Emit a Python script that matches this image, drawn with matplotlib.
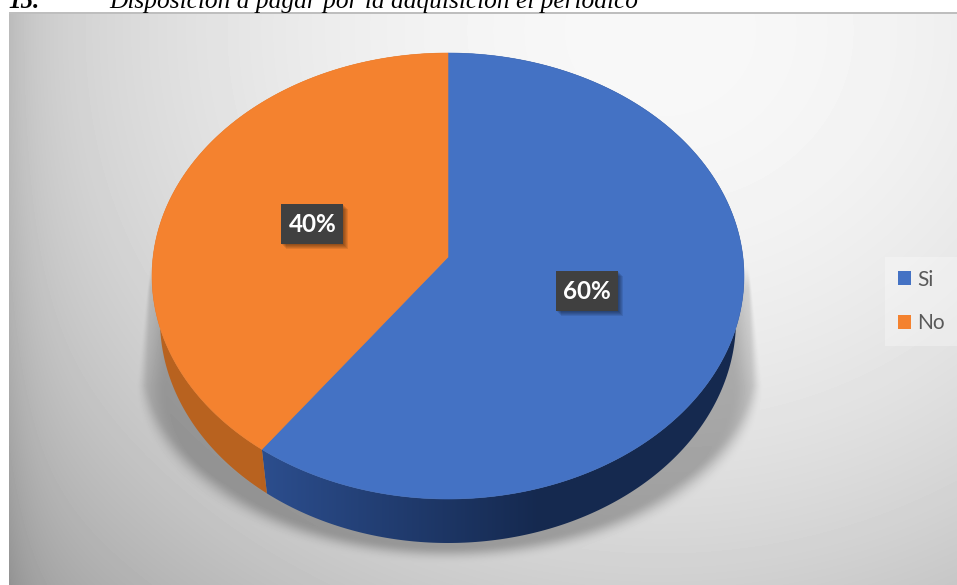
import numpy as np
import matplotlib
matplotlib.use('Agg')
import matplotlib.pyplot as plt
from matplotlib.patches import Polygon, Rectangle, Patch

labels = ['Si', 'No']
values = [60, 40]
colors = ['#4472C4', '#F4822F']
title_num = '15.'
title = 'Disposición a pagar por la adquisición el periódico'

W, H = 957, 585
CX, CY, RX, RY = 448, 276, 296, 223       # top face of the pie, in pixels
SX, SY = 288, 320                         # bottom rim (narrower, perspective)
A = 0.085                                 # moves the apex up from ellipse centre


def warp(theta, r=1.0, rx=RX, cy=CY):
    # unit circle -> tilted ellipse, keeps the rim on the ellipse
    t = np.radians(theta)
    x, y = r * np.cos(t), r * np.sin(t)
    d = 1 + A * y
    return CX + rx * x * np.sqrt(1 - A ** 2) / d, cy - RY * (y + A) / d


def smooth(a):
    a = np.clip(a, 0, 1)
    return a * a * (3 - 2 * a)


fig = plt.figure(figsize=(W / 100, H / 100), dpi=100)
ax = fig.add_axes([0, 0, 1, 1])

# background panel + shadow under the pie
yy, xx = np.mgrid[0:H, 0:W]
d2 = ((xx - 660) / 700.0) ** 2 + ((yy - 30) / 630.0) ** 2
bg = 248 - 52 * d2 - 16 * np.exp(-(xx - 9) / 25.0)

halfw = np.where(yy < 385, 301 + 13 * (yy - 273) / 112.0, 314.0)
ry = np.where(yy < 385, 1e9, 180.0)
r = np.hypot((xx - 449) / halfw, (yy - 385) / ry)
soft = 0.012 + 0.03 * np.clip((yy - 280) / 105.0, 0, 1) + 0.07 * np.clip((yy - 385) / 100.0, 0, 1)
sh = smooth((1 - r) / soft) * (0.45 + 0.55 * smooth((1 - r) / 0.1))
sh = sh * smooth((yy - 262) / 30.0)
bg = bg * (1 - 0.27 * sh)

bg[:14, :] = 190
bg[:12, :] = 255
bg[:, :9] = 255
ax.imshow(bg, cmap='gray', vmin=0, vmax=255, extent=(0, W, H, 0), zorder=0, interpolation='bilinear')

# the slices come from pie(), then get redrawn tilted
wedges, _ = ax.pie(values, colors=colors, startangle=90, counterclock=False)
side_cols = [('#2C4E8E', '#15294F'), ('#B8621F', '#A9581B')]

for w, col, sc in zip(wedges, colors, side_cols):
    th = np.linspace(w.theta1, w.theta2, 300)
    w.remove()

    # side wall with a left to right gradient
    tx, ty = warp(th)
    bx, by = warp(th, rx=SX, cy=SY)
    wall = Polygon(np.r_[np.c_[tx, ty], np.c_[bx, by][::-1]], closed=True, fc='none', ec='none', transform=ax.transData)
    ax.add_patch(wall)
    c0, c1 = matplotlib.colors.to_rgb(sc[0]), matplotlib.colors.to_rgb(sc[1])
    f = np.clip((np.arange(W) - 260) / 280.0, 0, 1)[None, :, None]
    grad = np.array(c0)[None, None, :] * (1 - f) + np.array(c1)[None, None, :] * f
    im = ax.imshow(grad, extent=(0, W, H, 0), aspect='auto', zorder=1)
    im.set_clip_path(wall)

    # top face
    ax0, ay0 = warp(np.array([0.0]), r=0)
    ax.add_patch(Polygon(np.r_[np.c_[ax0, ay0], np.c_[tx, ty]], closed=True, fc=col, ec=col, lw=0.4, zorder=2))

# percent labels at the middle of each slice
for w_th, v in zip(np.cumsum(values) - np.array(values) / 2, values):
    lx, ly = warp(90 - w_th / sum(values) * 360, r=0.49)
    for k in range(1, 6):
        ax.add_patch(Rectangle((lx - 31 + k, ly - 20 + k), 62, 40, fc='black', ec='none', alpha=0.09, zorder=3))
    ax.add_patch(Rectangle((lx - 31, ly - 20), 62, 40, fc='#404040', ec='none', zorder=4))
    ax.text(lx, ly + 0.5, f'{v}%', color='white', fontsize=17.5, fontweight='bold', family='Lato', ha='center', va='center', zorder=5)

# legend
handles = [Patch(fc=c, ec='none') for c in colors]
leg = ax.legend(handles, labels, loc='upper right', bbox_to_anchor=(W, 257), bbox_transform=ax.transData,
                frameon=True, fancybox=False, framealpha=0.3, facecolor='white', edgecolor='none',
                labelcolor='#595959', prop={'family': 'Lato', 'size': 15},
                handlelength=0.62, handleheight=0.62, handletextpad=0.3, labelspacing=1.15, borderpad=0.6, borderaxespad=0)

ax.text(8, 8, title_num, family='Liberation Serif', style='italic', fontweight='bold', fontsize=18, color='black', va='baseline')
ax.text(109, 8, title, family='Liberation Serif', style='italic', fontsize=18.25, color='black', va='baseline')

ax.set_aspect('auto')
ax.set_xlim(0, W)
ax.set_ylim(H, 0)
ax.axis('off')
fig.savefig('out.png', dpi=100)
